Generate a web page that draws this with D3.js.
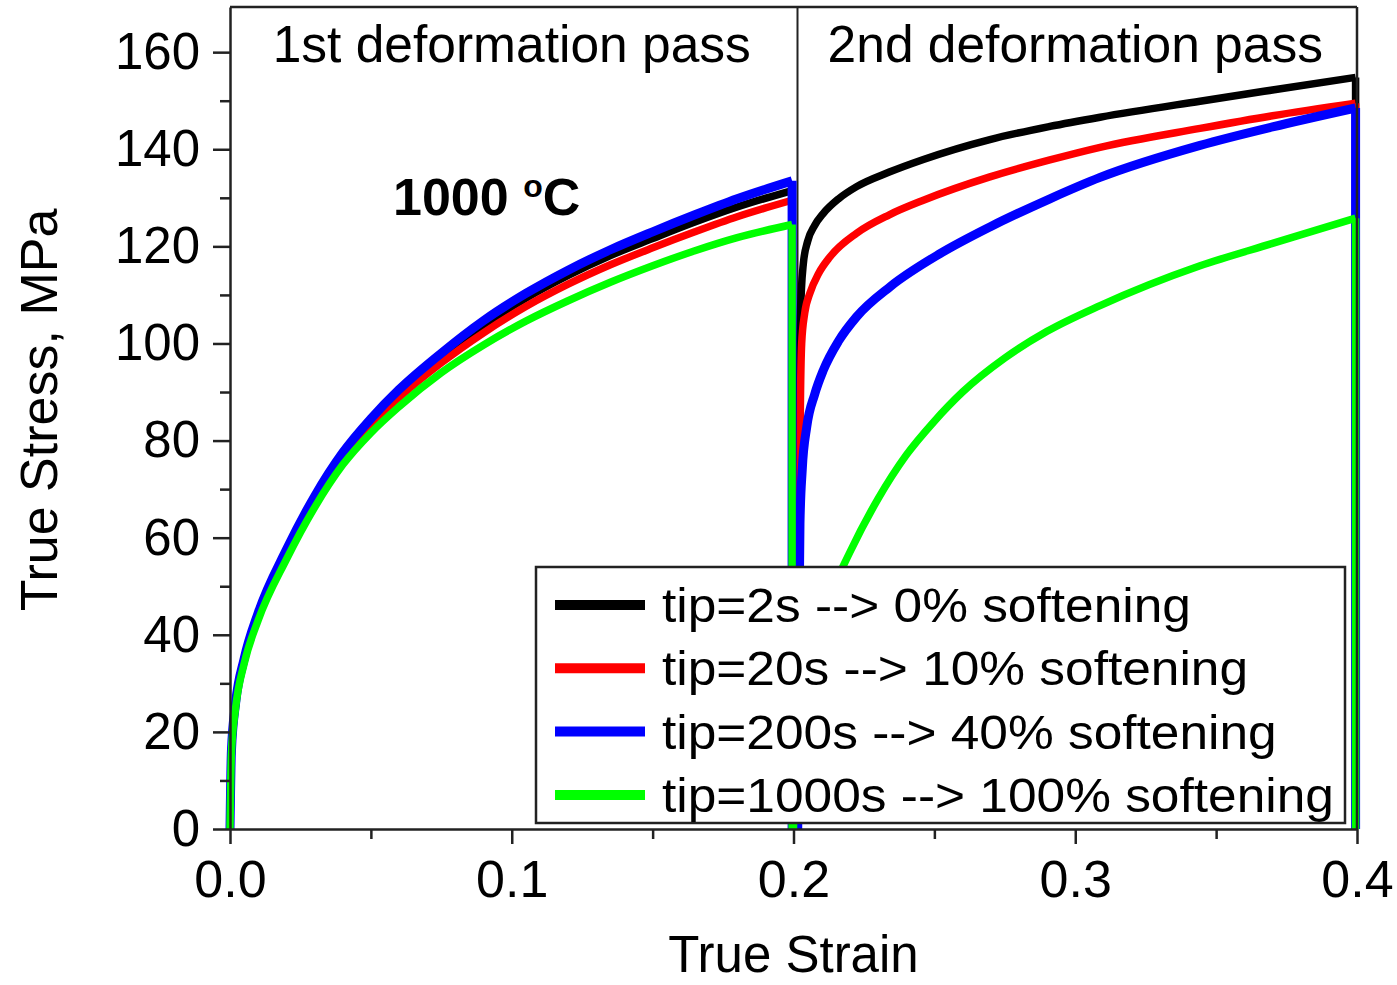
<!DOCTYPE html>
<html>
<head>
<meta charset="utf-8">
<script src="https://cdn.jsdelivr.net/npm/d3@7/dist/d3.min.js"></script>
<style>
  html, body { margin: 0; padding: 0; background: #fff; }
  svg { display: block; }
  text { font-family: "Liberation Sans", Arial, sans-serif; fill: #000; }
</style>
</head>
<body>
<svg id="chart" width="1397" height="985"></svg>
<script>
// ---------------- data ----------------
// 1st pass (shared strain grid)
const p1Strain = [0, 0.0005, 0.002, 0.005, 0.01, 0.02, 0.03, 0.04, 0.05, 0.06, 0.075, 0.09, 0.105, 0.12, 0.135, 0.15, 0.165, 0.18, 0.1995];
const p1Black  = [0, 16, 26, 35, 44.5, 57.4, 68.3, 77.2, 84, 89.9, 97.3, 103.8, 109.3, 114, 118.1, 121.6, 125, 128.1, 131.5];
const p1Red    = [0, 15.8, 25.6, 34.5, 44, 56.7, 67.4, 76.3, 83, 88.8, 96, 102.2, 107.6, 112.2, 116.2, 119.7, 123, 126.1, 129.5];
const p1Blue   = [0, 16, 26, 35, 44.5, 57.5, 68.5, 77.5, 84.5, 90.5, 98, 104.7, 110.3, 115.1, 119.3, 123, 126.5, 129.8, 133.5];
const p1Green  = [0, 15.5, 25, 34, 43, 55.5, 66.2, 75, 81.6, 87, 94, 99.7, 104.6, 108.8, 112.6, 116, 119.1, 121.8, 124.5];

// 2nd pass (own strain grids)
const p2BlackStrain = [0.2015, 0.2018, 0.2022, 0.2028, 0.2035, 0.205, 0.2075, 0.2106, 0.216, 0.2224, 0.234, 0.2461, 0.2697, 0.291, 0.3088, 0.3443, 0.37, 0.3995];
const p2Black       = [0, 60, 100, 111, 116.5, 121, 124.3, 126.8, 129.8, 132.3, 135.3, 137.9, 142, 144.7, 146.6, 149.9, 152.2, 154.8];
const p2RedStrain   = [0.2015, 0.2019, 0.2024, 0.2029, 0.204, 0.2058, 0.209, 0.2129, 0.2224, 0.234, 0.2461, 0.2697, 0.291, 0.3088, 0.3443, 0.37, 0.3995];
const p2Red         = [0, 45, 85, 100, 106.3, 110.3, 114.5, 117.8, 122.7, 126.5, 129.5, 134.3, 137.8, 140.4, 144.3, 146.9, 149.5];
const p2BlueStrain  = [0.2015, 0.2019, 0.2023, 0.2031, 0.2047, 0.2075, 0.2106, 0.216, 0.2224, 0.2343, 0.252, 0.2697, 0.291, 0.3088, 0.3443, 0.37, 0.3995];
const p2Blue        = [0, 40, 63, 74, 82.8, 89.5, 94.5, 100.5, 105.5, 111.7, 118.5, 124, 129.8, 134.2, 140.8, 144.6, 148.5];
const p2GreenStrain = [0.2, 0.2005, 0.202, 0.205, 0.21, 0.22, 0.23, 0.24, 0.25, 0.26, 0.275, 0.29, 0.3088, 0.3443, 0.37, 0.3995];
const p2Green       = [0, 16, 25.5, 34.5, 43.8, 57, 68, 77, 84, 90, 97, 102.5, 107.8, 116, 120.6, 125.8];

const seriesNames  = ["tip=2s --> 0% softening", "tip=20s --> 10% softening", "tip=200s --> 40% softening", "tip=1000s --> 100% softening"];
const seriesColors = ["#000000", "#ff0000", "#0000ff", "#00ff00"];
const seriesWidths = [7.5, 7.5, 9, 7.5];

const xTicks = [0, 0.1, 0.2, 0.3, 0.4];
const xMinorTicks = [0.05, 0.15, 0.25, 0.35];
const yTicks = [0, 20, 40, 60, 80, 100, 120, 140, 160];
const yMinorTicks = [10, 30, 50, 70, 90, 110, 130, 150];

const passLabels = ["1st deformation pass", "2nd deformation pass"];
const passCenters = [0.1, 0.3];
const passDivider = 0.2;

// ---------------- layout ----------------
const svg = d3.select("#chart");
const L = 230, R = 1357, T = 7, B = 829;
const x = d3.scaleLinear().domain([0, 0.4]).range([L, R]);
const y = d3.scaleLinear().domain([0, 169.3]).range([B, T]);

const zip = (xs, ys) => xs.map((v, i) => [v, ys[i]]);
const p1Sets = [p1Black, p1Red, p1Blue, p1Green];
const p2Sets = [[p2BlackStrain, p2Black], [p2RedStrain, p2Red], [p2BlueStrain, p2Blue], [p2GreenStrain, p2Green]];

const lineMono = d3.line().x(d => x(d[0])).y(d => y(d[1])).curve(d3.curveMonotoneX);
const lineLin = d3.line().x(d => x(d[0])).y(d => y(d[1]));

// divider
svg.append("line")
  .attr("x1", x(passDivider) + 4).attr("x2", x(passDivider) + 4)
  .attr("y1", T).attr("y2", B)
  .attr("stroke", "#222").attr("stroke-width", 2);

// curves
const gCurves = svg.append("g");
seriesColors.forEach((c, i) => {
  const p1 = zip(p1Strain, p1Sets[i]);
  const p2 = zip(p2Sets[i][0], p2Sets[i][1]);
  const last1 = p1[p1.length - 1];
  const last2 = p2[p2.length - 1];
  const g = gCurves.append("g")
    .attr("fill", "none").attr("stroke", c)
    .attr("stroke-width", seriesWidths[i])
    .attr("stroke-linejoin", "round");
  g.append("path").attr("d", lineMono(p1));
  g.append("path").attr("d", lineLin([last1, [last1[0], 0]]));
  g.append("path").attr("d", lineMono(p2));
  g.append("path").attr("d", lineLin([last2, [last2[0], 0]]));
});

// frame: top and right
svg.append("line").attr("x1", L).attr("x2", R).attr("y1", T).attr("y2", T)
  .attr("stroke", "#222").attr("stroke-width", 2.5);
svg.append("line").attr("x1", R).attr("x2", R).attr("y1", T).attr("y2", B)
  .attr("stroke", "#222").attr("stroke-width", 2.5);

// axes
function styleAxis(g, fs) {
  g.selectAll("path.domain").attr("stroke", "#222").attr("stroke-width", 2.5);
  g.selectAll(".tick line").attr("stroke", "#222").attr("stroke-width", 2.5);
  g.selectAll(".tick text").attr("font-size", fs).attr("fill", "#000")
    .attr("font-family", '"Liberation Sans", Arial, sans-serif');
}
const yAxisMinor = svg.append("g").attr("transform", `translate(${L},0)`)
  .call(d3.axisLeft(y).tickValues(yMinorTicks).tickSize(10).tickSizeOuter(0).tickFormat(""));
styleAxis(yAxisMinor, 50);
yAxisMinor.select("path.domain").remove();
const yAxis = svg.append("g").attr("transform", `translate(${L},0)`)
  .call(d3.axisLeft(y).tickValues(yTicks).tickSize(17).tickSizeOuter(0).tickPadding(13).tickFormat(d3.format("d")));
styleAxis(yAxis, 51);

const xAxisMinor = svg.append("g").attr("transform", `translate(0,${B})`)
  .call(d3.axisBottom(x).tickValues(xMinorTicks).tickSize(10).tickSizeOuter(0).tickFormat(""));
styleAxis(xAxisMinor, 50);
xAxisMinor.select("path.domain").remove();
const xAxis = svg.append("g").attr("transform", `translate(0,${B})`)
  .call(d3.axisBottom(x).tickValues(xTicks).tickSize(15).tickSizeOuter(0).tickPadding(16).tickFormat(d3.format(".1f")));
styleAxis(xAxis, 52);

// axis titles
svg.append("text").attr("x", (L + R) / 2).attr("y", 972)
  .attr("text-anchor", "middle").attr("font-size", 51).text("True Strain");
svg.append("text")
  .attr("transform", `translate(57,${(210 + 610) / 2}) rotate(-90)`)
  .attr("text-anchor", "middle").attr("font-size", 52).text("True Stress, MPa");

// pass labels
passLabels.forEach((t, i) => {
  svg.append("text").attr("x", x(passCenters[i])).attr("y", 62)
    .attr("text-anchor", "middle").attr("font-size", 51.5).text(t);
});

// temperature annotation
const temp = svg.append("text").attr("x", 393).attr("y", 215)
  .attr("font-size", 52).attr("font-weight", "bold");
temp.append("tspan").text("1000 ");
temp.append("tspan").attr("font-size", 32).attr("dy", -18).text("o");
temp.append("tspan").attr("dy", 18).text("C");

// legend
const lg = svg.append("g");
lg.append("rect").attr("x", 536).attr("y", 567).attr("width", 1345 - 536).attr("height", 823 - 567)
  .attr("fill", "#fff").attr("stroke", "#222").attr("stroke-width", 2.5);
seriesNames.forEach((name, i) => {
  const by = 622 + i * 63.3;
  lg.append("line").attr("x1", 555).attr("x2", 645).attr("y1", by - 17).attr("y2", by - 17)
    .attr("stroke", seriesColors[i]).attr("stroke-width", 10);
  lg.append("text").attr("transform", `translate(662,${by}) scale(1.05,1)`)
    .attr("font-size", 49).text(name);
});
</script>
</body>
</html>
